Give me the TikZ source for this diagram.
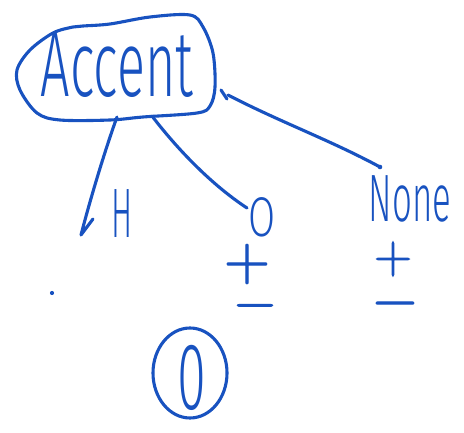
\documentclass[tikz,border=0pt]{standalone}
\usepackage{fontspec}
\setmainfont{Fira Sans}[UprightFont={* Light}]
\newfontfamily\signfont{Latin Modern Roman}[FakeBold=1.9]
\usetikzlibrary{shapes.geometric}
\definecolor{ink}{RGB}{24,82,192}
\tikzset{
  pen/.style={draw=ink, line width=3.1pt, line cap=round, line join=round},
  word/.style={text=ink, inner sep=0pt, outer sep=0pt},
  sign/.style={word, font=\signfont},
}
\newcommand{\hand}[3]{\fontsize{#1}{#1}\selectfont\scalebox{#2}[1]{#3}}
\begin{document}
\begin{tikzpicture}[x=1pt,y=-1pt]
\useasboundingbox (0,0) rectangle (464,433);
\fill[white] (0,0) rectangle (464,433);

% root label and its hand-drawn outline
\node[word] (accent) at (117,65) {\hand{93}{0.56}{Accent}};
\draw[pen] plot[smooth cycle, tension=0.55] coordinates {
  (83,26) (110,24) (150,17) (190,15) (203,27) (213,53) (215,87)
  (210,106) (197,113) (143,117) (110,120) (60,120) (37,113) (20,90)
  (17,70) (30,50) (53,33) (73,27)};
\coordinate (accent-s1) at (117,117);
\coordinate (accent-s2) at (152,116);
\coordinate (accent-s3) at (221,90);

% children
\node[word] (h) at (122,214) {\hand{70}{0.45}{H}};
\node[word] (o) at (262,217) {\hand{56}{0.70}{O}};
\node[word] (none) at (410,199) {\hand{67}{0.52}{None}};

\coordinate (h-end) at (81,235);
\coordinate (h-hook) at (93,219);
\coordinate (o-end) at (247,208);
\coordinate (none-end) at (380,167);

% branches
\draw[pen] (accent-s1) .. controls (105,150) and (90,200) .. (h-end) -- (h-hook);
\draw[pen] (accent-s2) .. controls (178,150) and (212,185) .. (o-end);
\draw[pen] (accent-s3) -- (227,99);
\draw[pen] (228,95) .. controls (280,122) and (330,140) .. (none-end);
\fill[ink] (none-end) circle (2.3);

% signs under the children
\node[sign] (oplus) at (247,264) {\hand{63}{1}{+}};
\node[sign] (ominus) at (255,312) {\hand{56}{1}{−}};
\node[sign] (nplus) at (393,259) {\hand{55}{0.95}{+}};
\node[sign] (nminus) at (395,310) {\hand{60}{1}{−}};

% stray dot
\fill[ink] (52,293) circle (2.1);

% circled zero
\node[ellipse, pen, minimum width=74pt, minimum height=90pt, inner sep=0pt] (ring) at (190,373) {};
\node[word] (zero) at (192,378) {\hand{95}{0.55}{0}};
\end{tikzpicture}
\end{document}
